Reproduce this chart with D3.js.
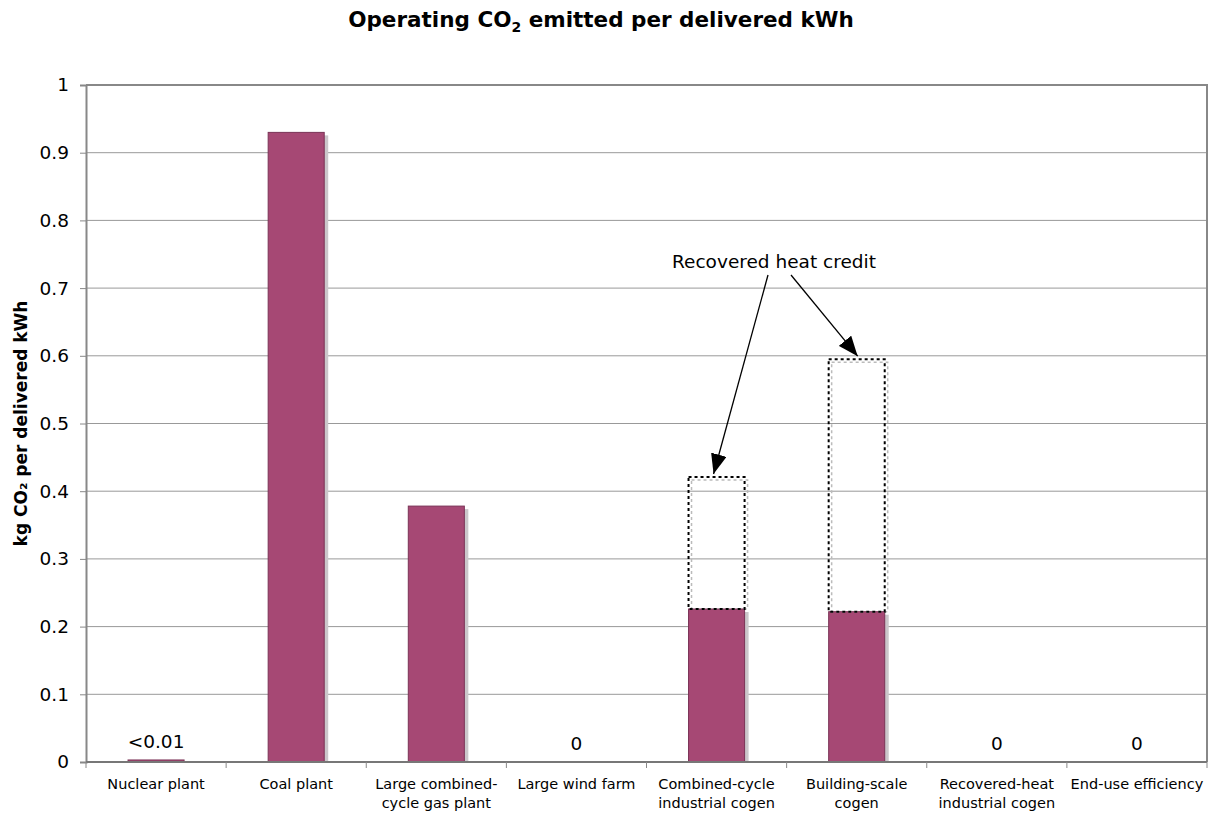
<!DOCTYPE html>
<html>
<head>
<meta charset="utf-8">
<script src="https://cdn.jsdelivr.net/npm/d3@7"></script>
<style>
body { margin: 0; background: #fff; }
text { font-family: "DejaVu Sans", Verdana, sans-serif; fill: #000; }
</style>
</head>
<body>
<div id="cContainer"></div>
<script>
// categories (label lines)
var categories = [
	["Nuclear plant"],
	["Coal plant"],
	["Large combined-", "cycle gas plant"],
	["Large wind farm"],
	["Combined-cycle", "industrial cogen"],
	["Building-scale", "cogen"],
	["Recovered-heat", "industrial cogen"],
	["End-use efficiency"]
];
// operating CO2, kg per delivered kWh
var values = [0.003, 0.93, 0.378, 0, 0.226, 0.222, 0, 0];
// emissions before the recovered heat credit (null = no credit shown)
var grossValues = [null, null, null, null, 0.421, 0.595, null, null];
// text shown above bars
var valueLabels = ["<0.01", null, null, "0", null, null, "0", "0"];
var yTicks = [0, 0.1, 0.2, 0.3, 0.4, 0.5, 0.6, 0.7, 0.8, 0.9, 1];

var width = 1214, height = 815;
var plotLeft = 86, plotRight = 1207, plotTop = 85, plotBottom = 762;
var barColor = "#a64874";

var svg = d3.select("#cContainer").append("svg")
	.attr("width", width)
	.attr("height", height);

var x = d3.scaleBand()
	.domain(d3.range(categories.length))
	.range([plotLeft, plotRight])
	.paddingInner(0.6)
	.paddingOuter(0.3);
var xStep = d3.scaleLinear().domain([0, categories.length]).range([plotLeft, plotRight]);

var y = d3.scaleLinear().domain([0, 1]).range([plotBottom, plotTop]);

svg.append("defs").append("marker")
	.attr("id", "arr")
	.attr("viewBox", "0 0 10 10")
	.attr("refX", 10).attr("refY", 5)
	.attr("markerWidth", 20).attr("markerHeight", 16)
	.attr("markerUnits", "userSpaceOnUse")
	.attr("orient", "auto")
	.attr("preserveAspectRatio", "none")
	.append("path").attr("d", "M0,0L10,5L0,10z").attr("fill", "#000");

// gridlines
svg.selectAll("line.grid")
	.data(yTicks.slice(1))
	.enter().append("line")
	.attr("class", "grid")
	.attr("x1", plotLeft).attr("x2", plotRight)
	.attr("y1", function(d) { return y(d); })
	.attr("y2", function(d) { return y(d); })
	.attr("stroke", "#999").attr("stroke-width", 1);

// plot border (right + top)
svg.append("path")
	.attr("d", "M" + plotLeft + "," + plotTop + "H" + plotRight + "V" + plotBottom)
	.attr("fill", "none").attr("stroke", "#888").attr("stroke-width", 2);

// bar shadows
var idx = d3.range(values.length);
svg.selectAll("rect.shadow")
	.data(idx.filter(function(i) { return values[i] > 0.01; }))
	.enter().append("rect")
	.attr("class", "shadow")
	.attr("x", function(i) { return x(i) + 4; })
	.attr("y", function(i) { return y(values[i]) + 3; })
	.attr("width", x.bandwidth())
	.attr("height", function(i) { return plotBottom - y(values[i]) - 3; })
	.attr("fill", "#cbc6ca");

// bars
svg.selectAll("rect.bar")
	.data(idx)
	.enter().append("rect")
	.attr("class", "bar")
	.attr("x", function(i) { return x(i); })
	.attr("y", function(i) { return y(values[i]); })
	.attr("width", x.bandwidth())
	.attr("height", function(i) { return plotBottom - y(values[i]); })
	.attr("fill", barColor)
	.attr("stroke", "#7a3356")
	.attr("stroke-width", function(i) { return values[i] > 0 ? 1 : 0; });

// recovered heat credit boxes
var credit = idx.filter(function(i) { return grossValues[i] != null; });
svg.selectAll("rect.creditShadow")
	.data(credit)
	.enter().append("rect")
	.attr("x", function(i) { return x(i) + 3; })
	.attr("y", function(i) { return y(grossValues[i]) + 3; })
	.attr("width", x.bandwidth())
	.attr("height", function(i) { return y(values[i]) - y(grossValues[i]) - 3; })
	.attr("fill", "none").attr("stroke", "#bbb")
	.attr("stroke-width", 1.5).attr("stroke-dasharray", "3,3");
svg.selectAll("rect.credit")
	.data(credit)
	.enter().append("rect")
	.attr("x", function(i) { return x(i); })
	.attr("y", function(i) { return y(grossValues[i]); })
	.attr("width", x.bandwidth())
	.attr("height", function(i) { return y(values[i]) - y(grossValues[i]); })
	.attr("fill", "none").attr("stroke", "#000")
	.attr("stroke-width", 2).attr("stroke-dasharray", "3,3");

// value labels
svg.selectAll("text.val")
	.data(idx.filter(function(i) { return valueLabels[i] != null; }))
	.enter().append("text")
	.attr("x", function(i) { return x(i) + x.bandwidth() / 2; })
	.attr("y", function(i) { return y(values[i]) - 12; })
	.attr("text-anchor", "middle")
	.style("font-size", "18.5px")
	.text(function(i) { return valueLabels[i]; });

// annotation
svg.append("text")
	.attr("x", 774).attr("y", 268)
	.attr("text-anchor", "middle")
	.style("font-size", "18.5px")
	.text("Recovered heat credit");
credit.forEach(function(i, k) {
	var sx = k == 0 ? 768 : 791;
	var tx = k == 0 ? x(i) + x.bandwidth() / 2 - 3 : x(i) + x.bandwidth() / 2 + 1;
	svg.append("line")
		.attr("x1", sx).attr("y1", 275)
		.attr("x2", tx).attr("y2", y(grossValues[i]) - 3)
		.attr("stroke", "#000").attr("stroke-width", 1.3)
		.attr("marker-end", "url(#arr)");
});

// y axis
var yAxis = svg.append("g")
	.attr("transform", "translate(" + plotLeft + ",0)")
	.call(d3.axisLeft(y).tickValues(yTicks).tickSize(6).tickPadding(11)
		.tickFormat(function(d) { return d3.format("")(+d.toFixed(1)); }));
yAxis.select(".domain").attr("stroke", "#888").attr("stroke-width", 2);
yAxis.selectAll(".tick line").attr("stroke", "#888");
yAxis.selectAll(".tick text").style("font-size", "18.5px").attr("fill", "#000");

// x axis line + ticks between categories
svg.append("line")
	.attr("x1", plotLeft).attr("x2", plotRight)
	.attr("y1", plotBottom).attr("y2", plotBottom)
	.attr("stroke", "#777").attr("stroke-width", 2);
svg.selectAll("line.xtick")
	.data(d3.range(categories.length + 1))
	.enter().append("line")
	.attr("x1", function(d) { return xStep(d); })
	.attr("x2", function(d) { return xStep(d); })
	.attr("y1", plotBottom).attr("y2", plotBottom + 6)
	.attr("stroke", "#888");

// category labels
var cat = svg.selectAll("text.cat")
	.data(idx)
	.enter().append("text")
	.attr("text-anchor", "middle")
	.style("font-size", "14.5px");
cat.each(function(i) {
	var t = d3.select(this);
	categories[i].forEach(function(line, j) {
		t.append("tspan")
			.attr("x", x(i) + x.bandwidth() / 2)
			.attr("y", 789 + j * 19)
			.text(line);
	});
});

// y title
svg.append("text")
	.attr("transform", "translate(27," + ((plotTop + plotBottom) / 2) + ") rotate(-90)")
	.attr("text-anchor", "middle")
	.style("font-size", "17px").style("font-weight", "bold")
	.text("kg CO\u2082 per delivered kWh");

// title
var title = svg.append("text")
	.attr("x", 601).attr("y", 27)
	.attr("text-anchor", "middle")
	.style("font-size", "21.5px").style("font-weight", "bold");
title.append("tspan").text("Operating CO");
title.append("tspan").attr("dy", 5).style("font-size", "14px").text("2");
title.append("tspan").attr("dy", -5).text(" emitted per delivered kWh");
</script>
</body>
</html>
